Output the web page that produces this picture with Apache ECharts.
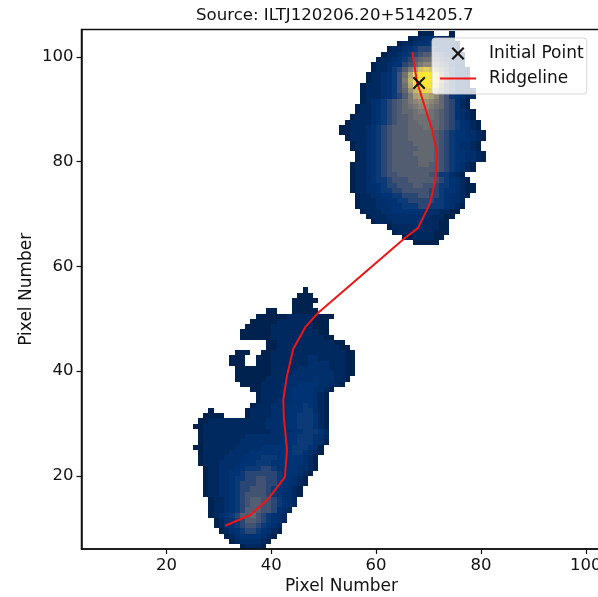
<!DOCTYPE html>
<html><head><meta charset="utf-8">
<style>html,body{margin:0;padding:0;background:#fff;overflow:hidden}#main{width:598px;height:597px}#main canvas{filter:blur(0.7px)}</style>
<script src="https://cdn.jsdelivr.net/npm/echarts@6/dist/echarts.min.js"></script>
</head><body><div id="main"></div>
<script>
const titleText = "Source: ILTJ120206.20+514205.7";
const xTicks = [20,40,60,80,100];
const yTicks = [20,40,60,80,100];
const initialPoint = [68.2,95];
const ridgeX = [31.2,36,39.4,42.6,43,42.4,42.3,43,44.2,46.5,48.9,65.5,68,70.3,71.3,71.6,70.7,67.8,66.9];
const ridgeY = [10.5,12.55,15.6,19.8,25,31.2,34.5,39.1,44.3,48.4,51.1,65.4,67.3,72.1,76.5,81.6,86,95.2,100.9];
// each row: [pixel y, first pixel x, brightness level per pixel (base 36), blank = no data]
const upperLobe = [
[104,68,"000   0"],
[103,66,"011222110"],
[102,64,"011233432211"],
[101,62,"01123455543221"],
[100,61,"0112345677654321"],
[99,60,"01123457899865421"],
[98,59,"011233568abba86431"],
[97,59,"0112457adghgda75321"],
[96,58,"01123469ejmnmic85321"],
[95,58,"0112346afloookd85321"],
[94,57,"011123469ejmnlhb75321"],
[93,57,"011123468cfiihea753211"],
[92,57,"011123457adeedb8643211"],
[91,57,"012345678abccba865310"],
[90,56,"01123456789abba9865310"],
[89,56,"011234567889aa987653210"],
[88,55,"011123456778999987653210"],
[87,54,"01111234567788998876543210"],
[86,53,"001112345677788898876543210"],
[85,53,"0011123456777888887654332210"],
[84,54,"011123456777888887654332210"],
[83,55,"0112345677778888765432210"],
[82,55,"0112345677777888765432210"],
[81,56,"0123456777788887654332210"],
[80,56,"0123456777778887654332210"],
[79,55,"011234567777788776543210"],
[78,55,"011234567777777776543210"],
[77,55,"0112345667777776544210"],
[76,55,"01123445666777776543210"],
[75,55,"011223455666776654432100"],
[74,55,"011223445566666554332100"],
[73,56,"0112233445556655432210"],
[72,56,"011122334455555443221"],
[71,56,"011122233444554443210"],
[70,57,"0111223333332221100"],
[69,58,"01112222222211100"],
[68,59,"011122222211100"],
[67,62,"011112211100"],
[66,63,"01111111000"],
[65,65,"00111100"],
[64,67,"00000"]
];
const lowerLobe = [
[55,46,"0"],
[54,45,"000"],
[53,44,"00000"],
[52,44,"0000"],
[51,39,"00   00000"],
[50,37,"000000111110000"],
[49,36,"000001111111000"],
[48,35,"0000011111111000"],
[47,34,"00000011111111100"],
[46,34,"000000111111111100"],
[45,39,"001111111111100"],
[44,39,"0011111111111100"],
[43,33,"000  001111111111111100"],
[42,32,"000  0001111111221111100"],
[41,32,"000  0001111111222211100"],
[40,33,"00000001111122222211100"],
[39,33,"00000001111222222221100"],
[38,33,"0000001111222223222110"],
[37,34,"00001111222333322110"],
[36,36,"0011112233332210"],
[35,37,"01111223333210"],
[34,37,"01112223333210"],
[33,36,"011122233343210"],
[32,28,"0      0111122233344210"],
[31,27,"0000    0111122233444310"],
[30,26,"0011111111111222233444310"],
[29,25,"00111111111111222233444310"],
[28,26,"0111111111111122223344431"],
[27,26,"0111111112222222233444321"],
[26,26,"0111111122222222333444320"],
[25,25,"0011111122222333333444320"],
[24,26,"011111222233333333443210"],
[23,26,"01111222233344433333210"],
[22,26,"01112222333444333333210"],
[21,27,"0112223344455433332210"],
[20,27,"011223345555554333210"],
[19,27,"01122344556655433210"],
[18,27,"01122345556655433210"],
[17,27,"0112234556665433210"],
[16,27,"0112234566665432210"],
[15,28,"01123456776654321"],
[14,28,"01123456776654321"],
[13,28,"0112345777665321"],
[12,28,"012345778654321"],
[11,29,"01234577654321"],
[10,29,"0123456654321"],
[9,30,"012345543210"],
[8,31,"0123333210"],
[7,32,"01222210"],
[6,34,"01110"]
];
const cividisRamp = ["#00224e","#00295f","#002f6b","#003373","#0c3a76","#2a4675","#425272","#535d71","#626770","#6f7072","#7b7a74","#8a8678","#989176","#a69d75","#b5a971","#c4b56d","#d4c264","#e4cf5b","#ecd650","#f2dc48","#f6e040","#f9e33b","#fbe538","#fde736","#fee838"];

const fontFamily = "'DejaVu Sans'";
const cells = [];
[upperLobe, lowerLobe].forEach(rows => rows.forEach(([y,x0,s]) => {
  [...s].forEach((c,k) => { if (c !== " ") cells.push([x0+k, y, parseInt(c,36)]); });
}));
const xMark = 'path://M1.2,0 L5,3.8 L8.8,0 L10,1.2 L6.2,5 L10,8.8 L8.8,10 L5,6.2 L1.2,10 L0,8.8 L3.8,5 L0,1.2 Z';
const lineIcon = 'path://M0,0H36V2H0Z';
const chart = echarts.init(document.getElementById('main'), null, {renderer:'canvas'});
const axisCommon = (ticks, name, gap) => ({
  type:'value', name, nameLocation:'middle', nameGap:gap, nameMoveOverlap:false,
  nameTextStyle:{fontFamily,fontSize:17,color:'#111'},
  axisLine:{show:true,onZero:false,lineStyle:{color:'#111',width:1.5}},
  axisTick:{show:true,length:5,customValues:ticks,lineStyle:{color:'#111',width:1.2}},
  axisLabel:{show:true,customValues:ticks,margin:8,fontFamily,fontSize:16.5,color:'#111',showMinLabel:true,showMaxLabel:true},
  splitLine:{show:false}, z:10
});
chart.setOption({
  animation:false, backgroundColor:'#fff',
  title:{text:titleText,left:196,top:7,padding:0,textStyle:{fontFamily,fontSize:16.6,fontWeight:'normal',color:'#111'}},
  grid:{left:81.5,top:29.5,width:520,height:519.5,outerBoundsMode:'none',show:true,borderColor:'#111',borderWidth:1.5,backgroundColor:'#fff'},
  xAxis:Object.assign(axisCommon(xTicks,'Pixel Number',29),{min:3.8,max:103}),
  yAxis:Object.assign(axisCommon(yTicks,'Pixel Number',46),{min:6.07,max:105.2}),
  visualMap:{show:false,type:'continuous',min:0,max:24,dimension:2,seriesIndex:0,inRange:{color:cividisRamp}},
  legend:{orient:'vertical',left:432,top:38,padding:[7,3,7,8],itemWidth:36,itemHeight:13,itemGap:8,
    backgroundColor:'rgba(255,255,255,0.8)',borderColor:'rgba(204,204,204,0.8)',borderWidth:1,borderRadius:3,
    textStyle:{fontFamily,fontSize:17,color:'#111',padding:[0,0,0,8]},z:20,
    data:['Initial Point',{name:'Ridgeline',icon:lineIcon}]},
  series:[
    {type:'custom',coordinateSystem:'cartesian2d',data:cells,z:1,silent:true,clip:true,
     encode:{x:0,y:1},
     renderItem(params,api){
       const a=api.coord([api.value(0),api.value(1)+1]), b=api.coord([api.value(0)+1,api.value(1)]);
       const l=Math.round(a[0]),t=Math.round(a[1]),r=Math.round(b[0]),bt=Math.round(b[1]);
       return {type:'rect',shape:{x:l,y:t,width:r-l,height:bt-t},style:{fill:api.visual('color')}};
     }},
    {type:'line',name:'Ridgeline',data:ridgeX.map((x,i)=>[x,ridgeY[i]]),showSymbol:false,symbol:'none',z:3,
     lineStyle:{color:'#f01414',width:2},itemStyle:{color:'#f01414'},silent:true},
    {type:'scatter',name:'Initial Point',data:[initialPoint],symbol:xMark,symbolSize:13,z:4,itemStyle:{color:'#000',opacity:0.9},silent:true}
  ]
});
</script></body></html>
